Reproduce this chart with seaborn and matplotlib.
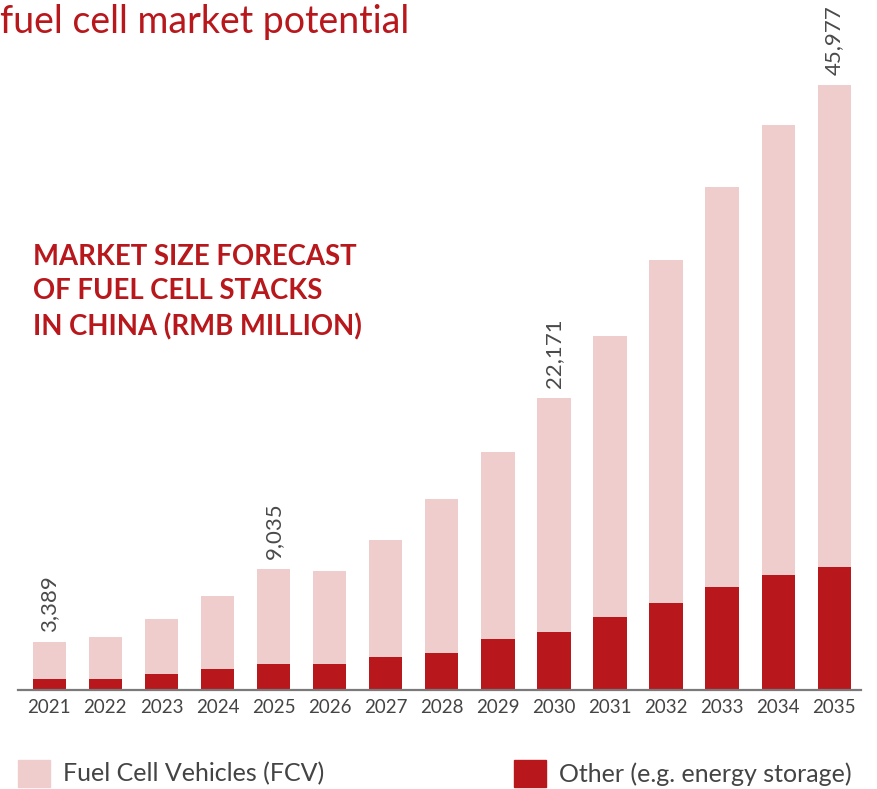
import numpy as np
import pandas as pd
import matplotlib
matplotlib.use("Agg")
import matplotlib.pyplot as plt
import matplotlib.patches as mpatches
import seaborn as sns

# 数据
years = ["2021", "2022", "2023", "2024", "2025", "2026", "2027", "2028",
         "2029", "2030", "2031", "2032", "2033", "2034", "2035"]
fcv = [2839, 3196, 4139, 5578, 7252, 7100, 8927, 11742,
       14254, 17845, 21414, 26034, 30455, 34245, 36687]
other = [814, 814, 1218, 1575, 1956, 1956, 2488, 2770,
         3858, 4376, 5525, 6628, 7800, 8729, 9315]
labelled = {"2021": "3,389", "2025": "9,035", "2030": "22,171", "2035": "45,977"}

title = "fuel cell market potential"
heading = "MARKET SIZE FORECAST\nOF FUEL CELL STACKS\nIN CHINA (RMB MILLION)"
legend_labels = ["Fuel Cell Vehicles (FCV)", "Other (e.g. energy storage)"]

PINK = "#f0cdcd"
RED = "#b8171b"

sns.set_theme(style="white")
plt.rcParams['font.family'] = ['Lato', 'DejaVu Sans']

df = pd.DataFrame({"year": years, "fcv": fcv, "other": other})
df["total"] = df["fcv"] + df["other"]

fig = plt.figure(figsize=(8.77, 7.89), dpi=100)
ax = fig.add_axes([0.0205, 0.1259, 0.9612, 0.8741])

sns.barplot(data=df, x="year", y="total", color=PINK, width=0.595,
            saturation=1, linewidth=0, ax=ax)
sns.barplot(data=df, x="year", y="other", color=RED, width=0.595,
            saturation=1, linewidth=0, ax=ax)

ax.set_xlim(-0.558, 14.476)
ax.set_ylim(0, 52486)
ax.set_xlabel("")
ax.set_ylabel("")
ax.set_yticks([])
for s in ["top", "right", "left"]:
    ax.spines[s].set_visible(False)
ax.spines["bottom"].set_color("#7a7a7a")
ax.spines["bottom"].set_linewidth(1.6)
ax.tick_params(axis="x", length=0, pad=7, labelsize=13.5, labelcolor="#444444")

# 柱顶数值
for i, y in enumerate(years):
    if y in labelled:
        ax.annotate(labelled[y], (i, df["total"][i]), xytext=(0, 7),
                    textcoords="offset points", rotation=90, ha="center",
                    va="bottom", fontsize=16, color="#4a4a4a")

fig.text(0.0, 0.958, title, fontsize=27, color=RED, ha="left", va="baseline")
fig.text(0.0376, 0.691, heading, fontsize=19.8, color=RED, fontweight="bold",
         ha="left", va="top", linespacing=1.41)

handles = [mpatches.Patch(color=PINK), mpatches.Patch(color=RED)]
fig.legend(handles, legend_labels, loc="lower left",
           bbox_to_anchor=(0.0205, 0.003), ncol=2, frameon=False,
           fontsize=18, handlelength=1.28, handleheight=1.28,
           handletextpad=0.52, columnspacing=7.6, borderpad=0,
           borderaxespad=0, labelcolor="#444444")

fig.savefig("out.png", dpi=100)
